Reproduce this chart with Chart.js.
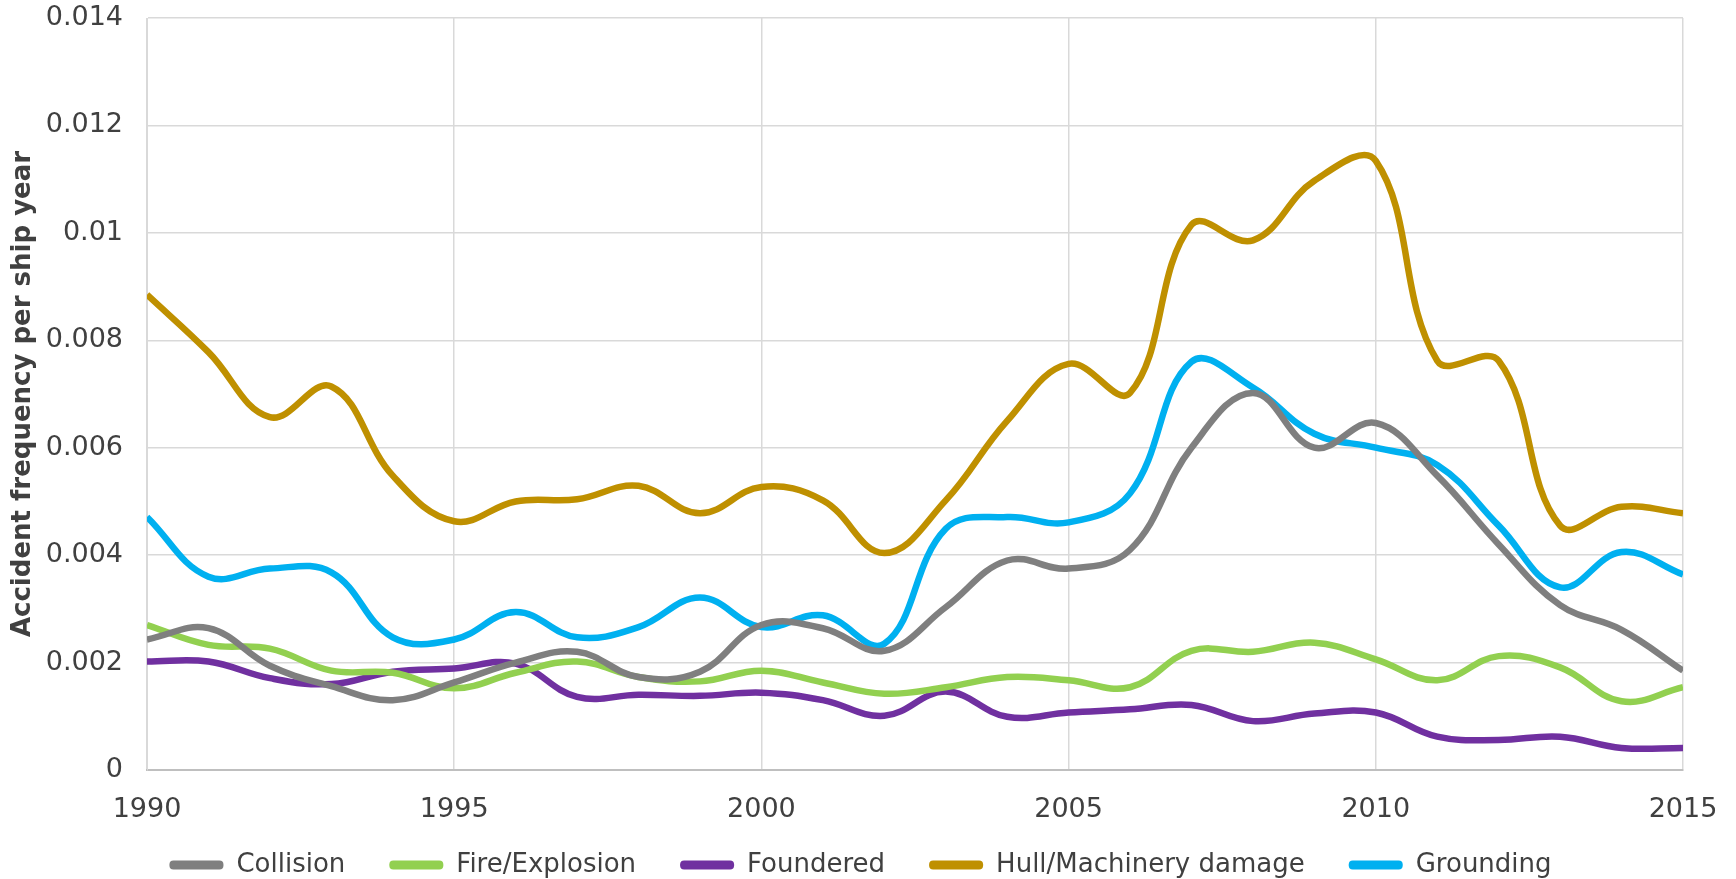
<!DOCTYPE html>
<html>
<head>
<meta charset="utf-8">
<script src="https://cdn.jsdelivr.net/npm/chart.js@4"></script>
<style>
  html, body { margin: 0; padding: 0; background: #fff; }
  #wrap { width: 1736px; height: 879px; }
</style>
</head>
<body>
<div id="wrap"><canvas id="accidentChart"></canvas></div>
<script>
// years 1990..2015
const years = [
  1990, 1991, 1992, 1993, 1994, 1995, 1996, 1997, 1998, 1999, 2000, 2001, 2002,
  2003, 2004, 2005, 2006, 2007, 2008, 2009, 2010, 2011, 2012, 2013, 2014, 2015,
];

// accident frequency per ship year
const collision = [
  0.00243, 0.00264, 0.00194, 0.00156, 0.0013, 0.00163, 0.002, 0.0022, 0.00173,
  0.00183, 0.0027, 0.00264, 0.00222, 0.00303, 0.0039, 0.00375, 0.0041, 0.006,
  0.00702, 0.006, 0.00646, 0.00548, 0.0042, 0.00307, 0.00261, 0.00185,
];
const fireExplosion = [
  0.0027, 0.00233, 0.00226, 0.00185, 0.00181, 0.00152, 0.00181, 0.00202,
  0.00173, 0.00165, 0.00185, 0.00163, 0.00142, 0.00154, 0.00173, 0.00167,
  0.00154, 0.00222, 0.0022, 0.00237, 0.00206, 0.00167, 0.00212, 0.00191,
  0.00128, 0.00154,
];
const foundered = [
  0.00202, 0.00202, 0.00171, 0.0016, 0.00183, 0.00189, 0.00198, 0.00136,
  0.0014, 0.00138, 0.00144, 0.0013, 0.00101, 0.00146, 0.00099, 0.00107,
  0.00113, 0.00121, 0.00091, 0.00105, 0.00107, 0.00062, 0.00056, 0.00062,
  0.00041, 0.00041,
];
const hullMachinery = [
  0.00885, 0.00778, 0.00657, 0.00714, 0.00548, 0.00463, 0.005, 0.00504,
  0.00529, 0.00478, 0.00527, 0.00502, 0.00404, 0.00502, 0.0065, 0.00756,
  0.00702, 0.01015, 0.00986, 0.01097, 0.01134, 0.00762, 0.00762, 0.00455,
  0.0049, 0.00478,
];
const grounding = [
  0.00471, 0.0036, 0.00375, 0.00368, 0.00247, 0.00243, 0.00294, 0.00247,
  0.00266, 0.00321, 0.00266, 0.00288, 0.00235, 0.00449, 0.00471, 0.00461,
  0.00515, 0.0076, 0.00712, 0.00626, 0.006, 0.00568, 0.00455, 0.0034, 0.00406,
  0.00364,
];

const seriesNames = ['Collision', 'Fire/Explosion', 'Foundered', 'Hull/Machinery damage', 'Grounding'];
const seriesValues = [collision, fireExplosion, foundered, hullMachinery, grounding];
const seriesColors = ['#7f7f7f', '#92d050', '#7030a0', '#bf9000', '#00b0f0'];

const textColor = '#404040';
const fontFamily = '"DejaVu Sans", Verdana, sans-serif';

// legend: wide item spacing, but a short box drawn at a fixed spot
const legendPlace = {
  id: 'legendPlace',
  beforeInit(chart) {
    const fit = chart.legend.fit;
    chart.legend.fit = function () {
      fit.bind(chart.legend)();
      this.height = 47;
    };
  },
  beforeDraw(chart) {
    const lg = chart.legend;
    lg.top = 808;
    lg.bottom = chart.height;
    lg.height = lg.bottom - lg.top;
    lg.left = 23;
    lg.right = chart.width - 38;
    lg.width = lg.right - lg.left;
  },
};

const ctx = document.getElementById('accidentChart').getContext('2d');

new Chart(ctx, {
  type: 'line',
  data: {
    datasets: seriesNames.map((name, i) => ({
      label: name,
      data: years.map((yr, j) => ({ x: yr, y: seriesValues[i][j] })),
      borderColor: seriesColors[i],
      backgroundColor: seriesColors[i],
      borderWidth: 6.5,
      pointRadius: 0,
      tension: 0.4,
      fill: false,
    })),
  },
  options: {
    responsive: true,
    maintainAspectRatio: false,
    animation: false,
    layout: { padding: { left: 8, right: 53, top: 0, bottom: 0 } },
    plugins: {
      tooltip: { enabled: false },
      legend: {
        position: 'bottom',
        labels: {
          color: textColor,
          font: { family: fontFamily, size: 26 },
          boxWidth: 54,
          boxHeight: 9,
          useBorderRadius: true,
          borderRadius: 4,
          padding: 44,
          generateLabels(chart) {
            return Chart.defaults.plugins.legend.labels
              .generateLabels(chart)
              .map((l) => ({ ...l, lineWidth: 0 }));
          },
        },
      },
    },
    scales: {
      x: {
        type: 'linear',
        min: 1990,
        max: 2015,
        grid: { color: '#d9d9d9', lineWidth: 1.5, drawTicks: false },
        border: { color: '#bfbfbf', width: 2 },
        ticks: {
          stepSize: 5,
          padding: 24,
          color: textColor,
          font: { family: fontFamily, size: 27 },
          callback: (v) => String(v),
        },
        afterFit(scale) {
          scale.height = 62;
          scale.paddingLeft = 0;
          scale.paddingRight = 0;
        },
      },
      y: {
        min: 0,
        max: 0.014,
        grid: { color: '#d9d9d9', lineWidth: 1.5, drawTicks: false },
        border: { color: '#d9d9d9' },
        ticks: {
          stepSize: 0.002,
          padding: 24,
          color: textColor,
          font: { family: fontFamily, size: 27 },
          callback: (v) => String(Number(v.toFixed(3))),
        },
        title: {
          display: true,
          text: 'Accident frequency per ship year',
          color: textColor,
          font: { family: fontFamily, size: 26, weight: 'bold' },
          padding: { top: 0, bottom: 0 },
        },
        afterFit(scale) {
          scale.width = 139;
          scale.paddingTop = 18;
          scale.paddingBottom = 0;
        },
      },
    },
  },
  plugins: [legendPlace],
});
</script>
</body>
</html>
